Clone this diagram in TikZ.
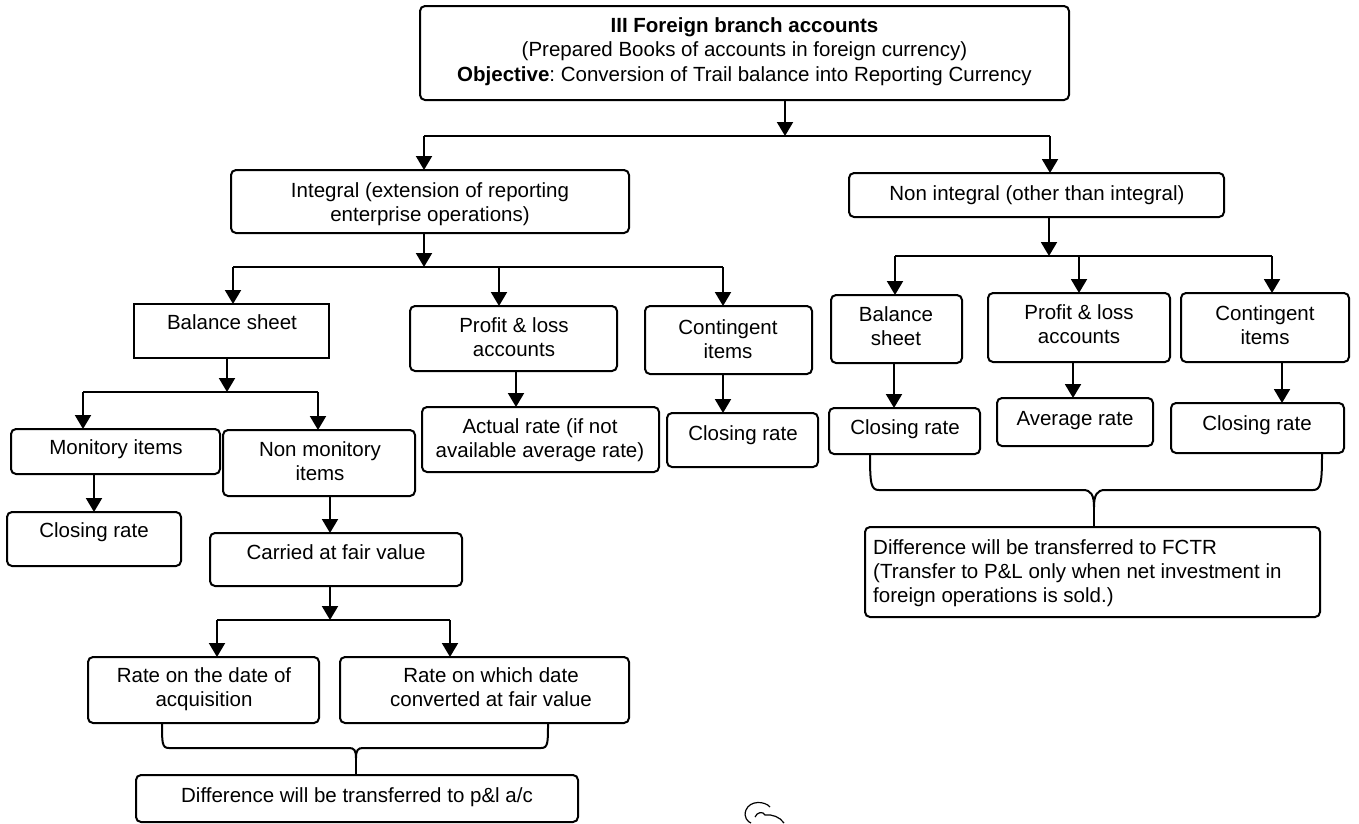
\documentclass[tikz,border=0pt]{standalone}
\usepackage{fontspec}
\setmainfont{Liberation Sans}
\usetikzlibrary{arrows.meta,calc}
\newcommand\dfont{\fontsize{20.5}{24}\selectfont\frenchspacing}
\begin{document}
\begin{tikzpicture}[x=1pt,y=-1pt,
 box/.style={draw, line width=2pt, rounded corners=5pt, inner sep=0pt, outer sep=0pt},
 sqbox/.style={draw, line width=2pt, inner sep=0pt, outer sep=0pt},
 txt/.style={font=\dfont, align=center, inner sep=0pt, anchor=base},
 ln/.style={line width=2pt},
 arr/.style={line width=2pt, -{Triangle[length=14pt,width=16pt]}}]
\useasboundingbox (0,0) rectangle (1359,823);

% boxes
\node[box, minimum width=649pt, minimum height=94pt] (top) at (744.5,53) {};
\node[box, minimum width=398pt, minimum height=63pt] (integral) at (430,201.5) {};
\node[box, minimum width=375pt, minimum height=44pt] (nonint) at (1036.5,195) {};
\node[sqbox, minimum width=195pt, minimum height=54pt] (bs) at (231.5,331) {};
\node[box, minimum width=207pt, minimum height=65pt] (pl) at (513.5,338.5) {};
\node[box, minimum width=167pt, minimum height=68pt] (cont) at (728.5,340) {};
\node[box, minimum width=209pt, minimum height=45pt] (mon) at (115.5,451.5) {};
\node[box, minimum width=192pt, minimum height=66pt] (nonmon) at (319,463) {};
\node[box, minimum width=237pt, minimum height=65pt] (actual) at (540.5,439.5) {};
\node[box, minimum width=151pt, minimum height=54pt] (closeC) at (742.5,440) {};
\node[box, minimum width=174pt, minimum height=54pt] (closeM) at (94,539) {};
\node[box, minimum width=252pt, minimum height=53pt] (carried) at (336,559.5) {};
\node[box, minimum width=231pt, minimum height=66pt] (rdate) at (203.5,690) {};
\node[box, minimum width=289pt, minimum height=66pt] (rwhich) at (484.5,690) {};
\node[box, minimum width=442pt, minimum height=47pt] (diffpl) at (357,798.5) {};
\node[box, minimum width=131pt, minimum height=68pt] (nibs) at (896.5,329) {};
\node[box, minimum width=182pt, minimum height=69pt] (nipl) at (1079,327.5) {};
\node[box, minimum width=168pt, minimum height=69pt] (nicont) at (1265,327.5) {};
\node[box, minimum width=151pt, minimum height=46pt] (nic1) at (904.5,431) {};
\node[box, minimum width=156pt, minimum height=48pt] (niavg) at (1075,422) {};
\node[box, minimum width=173pt, minimum height=50pt] (nic3) at (1257.5,428) {};
\node[box, minimum width=455pt, minimum height=90pt] (fctr) at (1092.5,572) {};

% texts (anchor = baseline of the last line)
\node[txt, font=\fontsize{20.5}{24.5}\selectfont\frenchspacing] (ttop) at (744.5,81) {\textbf{III Foreign branch accounts}\\(Prepared Books of accounts in foreign currency)\\\textbf{Objective}: Conversion of Trail balance into Reporting Currency};
\node[txt] (tintegral) at (430,221) {Integral (extension of reporting\\enterprise operations)};
\node[txt] (tnonint) at (1037,200) {Non integral (other than integral)};
\node[txt] (tbs) at (232,329) {Balance sheet};
\node[txt] (tpl) at (514,356) {Profit \& loss\\accounts};
\node[txt] (tcont) at (728,358) {Contingent\\items};
\node[txt] (tmon) at (116,454) {Monitory items};
\node[txt] (tnonmon) at (320,480) {Non monitory\\items};
\node[txt] (tactual) at (540,457) {Actual rate (if not\\available average rate)};
\node[txt] (tcloseC) at (743,440) {Closing rate};
\node[txt] (tcloseM) at (94,537) {Closing rate};
\node[txt] (tcarried) at (336,559) {Carried at fair value};
\node[txt] (trdate) at (204,706) {Rate on the date of\\acquisition};
\node[txt] (trwhich) at (491,706) {Rate on which date\\converted at fair value};
\node[txt] (tdiffpl) at (357,802) {Difference will be transferred to p\&l a/c};
\node[txt] (tnibs) at (896,345) {Balance\\sheet};
\node[txt] (tnipl) at (1079,343) {Profit \& loss\\accounts};
\node[txt] (tnicont) at (1265,344) {Contingent\\items};
\node[txt] (tnic1) at (905,434) {Closing rate};
\node[txt] (tniavg) at (1075,425) {Average rate};
\node[txt] (tnic3) at (1257,430) {Closing rate};
\node[txt, align=left, anchor=base west] (tfctr) at (873,602) {Difference will be transferred to FCTR\\(Transfer to P\&L only when net investment in\\foreign operations is sold.)};

% junction coordinates
\coordinate (s1) at (785,136);
\coordinate (s1L) at (424,136);
\coordinate (s1R) at (1050,136);
\coordinate (s2) at (424,267);
\coordinate (s2L) at (233,267);
\coordinate (s2M) at (499,267);
\coordinate (s2R) at (723,267);
\coordinate (s3) at (227,392);
\coordinate (s3L) at (83,392);
\coordinate (s3R) at (318,392);
\coordinate (s4) at (330,620);
\coordinate (s4L) at (217,620);
\coordinate (s4R) at (450,620);
\coordinate (s5) at (1049,256);
\coordinate (s5L) at (895,256);
\coordinate (s5M) at (1079,256);
\coordinate (s5R) at (1272,256);
\coordinate (cusp1) at (356,758);
\coordinate (cusp2) at (1094,507);

% connectors
\draw[arr] (top.south -| s1) -- (s1);
\draw[ln] (s1L) -- (s1R);
\draw[arr] (s1L) -- (s1L |- integral.north);
\draw[arr] (s1R) -- (s1R |- nonint.north);

\draw[arr] (integral.south -| s2) -- (s2);
\draw[ln] (s2L) -- (s2R);
\draw[arr] (s2L) -- (s2L |- bs.north);
\draw[arr] (s2M) -- (s2M |- pl.north);
\draw[arr] (s2R) -- (s2R |- cont.north);

\draw[arr] (bs.south -| s3) -- (s3);
\draw[ln] (s3L) -- (s3R);
\draw[arr] (s3L) -- (s3L |- mon.north);
\draw[arr] (s3R) -- (s3R |- nonmon.north);

\draw[arr] ([xshift=2.5pt]pl.south) -- ([xshift=2.5pt]pl.south |- actual.north);
\draw[arr] ([xshift=-5.5pt]cont.south) -- ([xshift=-5.5pt]cont.south |- closeC.north);
\draw[arr] (closeM.north |- mon.south) -- (closeM.north);
\draw[arr] (nonmon.south -| s4) -- (carried.north -| s4);

\draw[arr] (carried.south -| s4) -- (s4);
\draw[ln] (s4L) -- (s4R);
\draw[arr] (s4L) -- (s4L |- rdate.north);
\draw[arr] (s4R) -- (s4R |- rwhich.north);

\draw[arr] (nonint.south -| s5) -- (s5);
\draw[ln] (s5L) -- (s5R);
\draw[arr] (s5L) -- (s5L |- nibs.north);
\draw[arr] (s5M) -- (s5M |- nipl.north);
\draw[arr] (s5R) -- (s5R |- nicont.north);

\draw[arr] ([xshift=-2.5pt]nibs.south) -- ([xshift=-2.5pt]nibs.south |- nic1.north);
\draw[arr] ([xshift=-6pt]nipl.south) -- ([xshift=-6pt]nipl.south |- niavg.north);
\draw[arr] ([xshift=17pt]nicont.south) -- ([xshift=17pt]nicont.south |- nic3.north);

% braces
\draw[ln] ([xshift=-41.5pt]rdate.south) .. controls +(0,20) and +(-7,0) .. (169,748) -- (349,748) .. controls +(5,0) and +(0,-8) .. (cusp1);
\draw[ln] ([xshift=63.5pt]rwhich.south) .. controls +(0,20) and +(7,0) .. (541,748) -- (363,748) .. controls +(-5,0) and +(0,-8) .. (cusp1);
\draw[ln] (cusp1) -- (diffpl.north -| cusp1);

\draw[ln] ([xshift=-34.5pt]nic1.south) .. controls +(0,30) and +(-8,0) .. (879,490) -- (1083,490) .. controls +(8,0) and +(0,-12) .. (cusp2);
\draw[ln] ([xshift=64.5pt]nic3.south) .. controls +(0,30) and +(8,0) .. (1313,490) -- (1105,490) .. controls +(-8,0) and +(0,-12) .. (cusp2);
\draw[ln] (cusp2) -- (fctr.north -| cusp2);

% small mark
\draw[line width=1.2pt] (770,807) .. controls (765,801) and (750,800) .. (746,810) .. controls (743,817) and (748,822) .. (751,823);
\draw[line width=1.2pt] (755,817) .. controls (757,812) and (763,811) .. (765,815) .. controls (772,814) and (780,817) .. (784,823);
\end{tikzpicture}
\end{document}
